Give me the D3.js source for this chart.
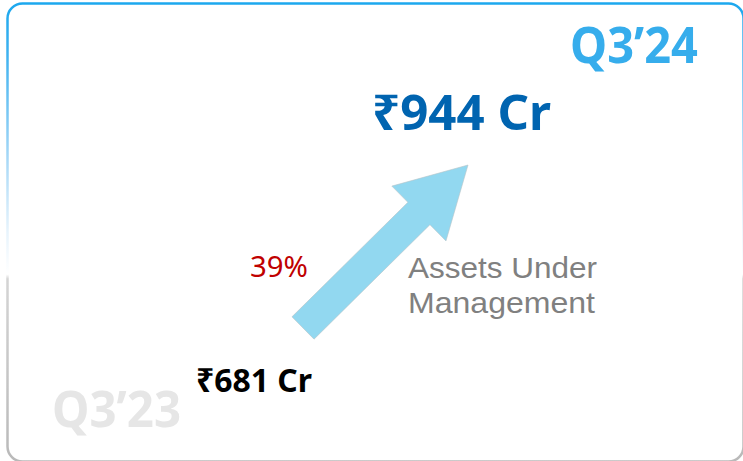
<!DOCTYPE html>
<html>
<head>
<meta charset="utf-8">
<script src="https://cdn.jsdelivr.net/npm/d3@7"></script>
<style>
  html, body { margin: 0; padding: 0; background: #fff; overflow: hidden; }
  svg { display: block; font-family: "Noto Sans", "Open Sans", sans-serif; }
</style>
</head>
<body>
<div id="viz-container"></div>
<script>
// data
var periods = ["Q3\u201923", "Q3\u201924"];
var values = [681, 944];
var valueLabels = ["\u20b9681 Cr", "\u20b9944 Cr"];
var growthLabel = "39%";
var metricLines = ["Assets Under", "Management"];

var width = 743,
	height = 461;

var svg = d3.select('#viz-container')
		.append('svg')
			.attr('width', width)
			.attr('height', height);

var defs = svg.append('defs');
var grad = defs.append('linearGradient')
		.attr('id', 'border-grad')
		.attr('gradientUnits', 'userSpaceOnUse')
		.attr('x1', 0).attr('y1', 0)
		.attr('x2', 0).attr('y2', height);
[[0, '#1aa7ee'], [0.12, '#3fb2f0'], [0.35, '#a9d9f7'], [0.5, '#e6f3fc'], [0.595, '#ffffff'],
 [0.605, '#d4d4d4'], [1, '#b9b9b9']].forEach(function(s){
	grad.append('stop').attr('offset', s[0]).attr('stop-color', s[1]);
});

// card border (right and bottom edges run off the picture)
svg.append('rect')
	.attr('x', 7.5)
	.attr('y', 3.5)
	.attr('width', 736)
	.attr('height', 458)
	.attr('rx', 15)
	.attr('fill', '#fff')
	.attr('stroke', 'url(#border-grad)')
	.attr('stroke-width', 2.5);

// scales: period -> x, value -> y (arrow tail/tip)
var xScale = d3.scalePoint()
		.domain(periods)
		.range([303, 468]);

var yScale = d3.scaleLinear()
		.domain([values[0], values[1]])
		.range([328, 165]);

// arrow
var x0 = xScale(periods[0]), y0 = yScale(values[0]),
	x1 = xScale(periods[1]), y1 = yScale(values[1]);
var dx = x1 - x0, dy = y1 - y0,
	len = Math.sqrt(dx*dx + dy*dy),
	ux = dx/len, uy = dy/len,
	nx = -uy, ny = ux;
var shaftHalf = 15.7, headHalf = 38.5, headLen = 69;
function pt(along, side){
	return [x0 + ux*along + nx*side, y0 + uy*along + ny*side];
}
var arrowPts = [
	pt(0, -shaftHalf),
	pt(len - headLen, -shaftHalf),
	pt(len - headLen, -headHalf),
	pt(len, 0),
	pt(len - headLen, headHalf),
	pt(len - headLen, shaftHalf),
	pt(0, shaftHalf)
];
svg.append('path')
	.attr('d', d3.line()(arrowPts) + 'Z')
	.attr('fill', '#92d8f0')
	.attr('stroke', '#b8c4c8')
	.attr('stroke-width', 0.6);

// period labels
svg.append('text')
	.attr('x', 698).attr('y', 63)
	.attr('text-anchor', 'end')
	.attr('font-size', 50)
	.attr('font-weight', 700)
	.attr('fill', '#36adec')
	.attr('textLength', 128)
	.attr('lengthAdjust', 'spacingAndGlyphs')
	.text(periods[1]);

svg.append('text')
	.attr('x', 52).attr('y', 427)
	.attr('font-size', 50)
	.attr('font-weight', 700)
	.attr('fill', '#e6e6e6')
	.attr('textLength', 129)
	.attr('lengthAdjust', 'spacingAndGlyphs')
	.text(periods[0]);

// value labels
svg.append('text')
	.attr('x', 372).attr('y', 130)
	.attr('font-size', 49)
	.attr('font-weight', 700)
	.attr('fill', '#0064b0')
	.attr('textLength', 179)
	.attr('lengthAdjust', 'spacingAndGlyphs')
	.text(valueLabels[1]);

svg.append('text')
	.attr('x', 196).attr('y', 392)
	.attr('font-size', 33)
	.attr('font-weight', 700)
	.attr('fill', '#000')
	.attr('textLength', 116)
	.attr('lengthAdjust', 'spacingAndGlyphs')
	.text(valueLabels[0]);

// growth
svg.append('text')
	.attr('x', 250).attr('y', 277)
	.attr('font-size', 29)
	.attr('fill', '#c00000')
	.attr('textLength', 58)
	.attr('lengthAdjust', 'spacingAndGlyphs')
	.text(growthLabel);

// metric name
svg.selectAll('text.metric')
	.data(metricLines)
	.enter()
	.append('text')
		.attr('class', 'metric')
		.attr('x', 408)
		.attr('y', function(d, i){ return 278 + i*35; })
		.attr('font-family', '"Liberation Sans", Arial, sans-serif')
		.attr('font-size', 30)
		.attr('fill', '#808080')
		.attr('textLength', function(d, i){ return i === 0 ? 189 : 187; })
		.attr('lengthAdjust', 'spacingAndGlyphs')
		.text(function(d){ return d; });
</script>
</body>
</html>
